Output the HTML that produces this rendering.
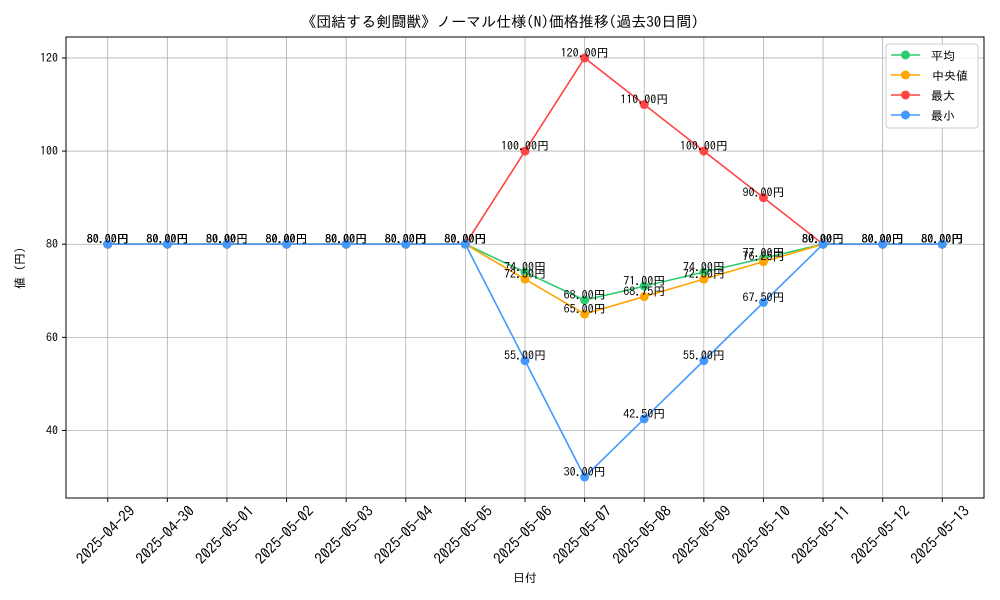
<!DOCTYPE html>
<html><head><meta charset="utf-8">
<style>
body{margin:0;background:#fff}
svg{display:block;font-family:"IPAGothic","Liberation Sans","Noto Sans CJK JP",sans-serif}
</style></head>
<body>
<svg id="chart" width="1000" height="600">
<rect width="1000" height="600" fill="#fff"/>
<text x="500" y="27" text-anchor="middle" font-size="15">《団結する剣闘獣》ノーマル仕様(N)価格推移(過去30日間)</text>
<g id="grid"></g>
<g id="axes"></g>
<g id="series"></g>
<rect x="66" y="37" width="918" height="461" fill="none" stroke="#000" stroke-width="1"/>
<text x="525" y="582" text-anchor="middle" font-size="12">日付</text>
<text transform="translate(24,268) rotate(-90)" text-anchor="middle" font-size="12">値 (円)</text>
<g id="legend"></g>
</svg>
<script>
const dates=["2025-04-29","2025-04-30","2025-05-01","2025-05-02","2025-05-03","2025-05-04","2025-05-05","2025-05-06","2025-05-07","2025-05-08","2025-05-09","2025-05-10","2025-05-11","2025-05-12","2025-05-13"];
const avgValues=[80,80,80,80,80,80,80,74,68,71,74,77,80,80,80];
const medianValues=[80,80,80,80,80,80,80,72.5,65,68.75,72.5,76.25,80,80,80];
const maxValues=[80,80,80,80,80,80,80,100,120,110,100,90,80,80,80];
const minValues=[80,80,80,80,80,80,80,55,30,42.5,55,67.5,80,80,80];
const yTicks=[40,60,80,100,120];
const seriesNames=["平均","中央値","最大","最小"];

const NS="http://www.w3.org/2000/svg";
const L=66,R=984,T=37,B=498;
const n=dates.length;
const xmin=-0.7,xmax=n-1+0.7;
const allV=[...avgValues,...medianValues,...maxValues,...minValues];
const vmin=Math.min(...allV),vmax=Math.max(...allV),pad=(vmax-vmin)*0.05;
const ymin=vmin-pad,ymax=vmax+pad;
const xs=i=>L+(i-xmin)/(xmax-xmin)*(R-L);
const ys=v=>B-(v-ymin)/(ymax-ymin)*(B-T);
function mk(tag,attrs,parent){const e=document.createElementNS(NS,tag);for(const k in attrs)e.setAttribute(k,attrs[k]);parent.appendChild(e);return e;}
const grid=document.getElementById('grid'),axes=document.getElementById('axes'),ser=document.getElementById('series'),leg=document.getElementById('legend');
dates.forEach((d,i)=>{
  const x=xs(i);
  const gl=mk('line',{x1:x,x2:x,y1:T,y2:B,stroke:'#b0b0b0','stroke-width':0.8},grid);
  
  
  mk('line',{x1:x,x2:x,y1:B,y2:B+4,stroke:'#000'},axes);
  const t=mk('text',{x:0,y:5,'font-size':15,'text-anchor':'middle',transform:`translate(${x-2},${B+37}) rotate(-45)`},axes);
  t.textContent=d;
  
  
});
yTicks.forEach(v=>{
  const y=ys(v);
  const gl=mk('line',{x1:L,x2:R,y1:y,y2:y,stroke:'#b0b0b0','stroke-width':0.8},grid);
  
  
  mk('line',{x1:L-4,x2:L,y1:y,y2:y,stroke:'#000'},axes);
  const t=mk('text',{x:L-8,y:y+4,'font-size':12,'text-anchor':'end'},axes);
  t.textContent=v;
  
  
});
const all=[avgValues,medianValues,maxValues,minValues];
const colors=["#2ecc71","#ffa500","#ff4444","#4499ff"];
const keys=["avg","median","max","min"];
all.forEach((vals,si)=>{
  const g=mk('g',{},ser);
  
  
  const p=mk('polyline',{points:vals.map((v,i)=>xs(i)+','+ys(v)).join(' '),fill:'none',stroke:colors[si],'stroke-width':1.6},g);
  
  
  vals.forEach((v,i)=>{
    const c=mk('circle',{cx:xs(i),cy:ys(v),r:4.5,fill:colors[si]},g);
    
    
  });
  vals.forEach((v,i)=>{
    const t=mk('text',{x:xs(i),y:ys(v)-1,'font-size':12,'text-anchor':'middle'},g);
    t.textContent=v.toFixed(2)+'円';
    
    
  });
});
const lb=mk('rect',{x:886,y:44,width:92,height:84,rx:3,fill:'#fff','fill-opacity':0.85,stroke:'#ccc'},leg);


seriesNames.forEach((nm,i)=>{
  const y=55+i*20;
  const g=mk('g',{},leg);
  
  
  mk('line',{x1:891,x2:920,y1:y,y2:y,stroke:colors[i],'stroke-width':1.6},g);
  mk('circle',{cx:905.5,cy:y,r:4.5,fill:colors[i]},g);
  const t=mk('text',{x:i==1?932:931,y:y+5,'font-size':12},g);
  t.textContent=nm;
});
</script>
</body></html>
